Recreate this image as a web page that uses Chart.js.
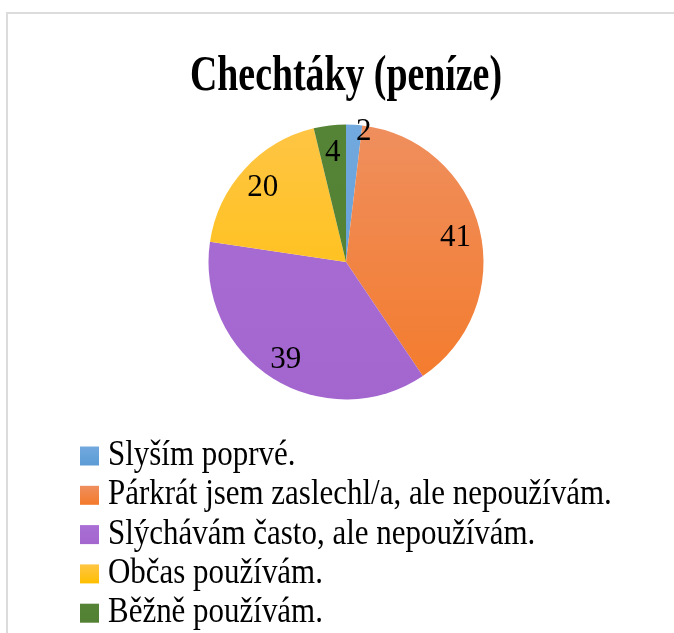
<!DOCTYPE html>
<html><head><meta charset="utf-8">
<script src="https://cdn.jsdelivr.net/npm/chart.js@4"></script>
<style>
html,body{margin:0;padding:0;background:#fff;overflow:hidden;}
#wrap{position:relative;width:674px;height:633px;overflow:hidden;}
#frame{position:absolute;left:6px;top:12px;width:720px;height:700px;border-left:2px solid #dcdcdc;border-top:2px solid #dcdcdc;box-sizing:border-box;}
#c{position:absolute;left:0;top:0;}
</style></head><body>
<div id="wrap"><div id="frame"></div><canvas id="c" width="674" height="633"></canvas></div>
<script>
// ---- data ----
const chartTitle = 'Chechtáky (peníze)';
const categories = [
  'Slyším poprvé.',
  'Párkrát jsem zaslechl/a, ale nepoužívám.',
  'Slýchávám často, ale nepoužívám.',
  'Občas používám.',
  'Běžně používám.'
];
const values = [2, 41, 39, 20, 4];

// ---- styles ----
const topColors    = ['#72a9de', '#ef8f5e', '#a96fd4', '#ffc545', '#558436'];
const bottomColors = ['#5b9bd5', '#f47a2a', '#a366cf', '#ffbf00', '#538134'];
const serif = '"Liberation Serif", "Times New Roman", serif';

function grad(ctx, top, bottom, c1, c2) {
  const g = ctx.createLinearGradient(0, top, 0, bottom);
  g.addColorStop(0, c1); g.addColorStop(1, c2);
  return g;
}
function scaledText(ctx, text, x, y, sx, align) {
  ctx.save();
  ctx.translate(x, y);
  ctx.scale(sx, 1);
  ctx.textAlign = align || 'left';
  ctx.fillText(text, 0, 0);
  ctx.restore();
}

const titlePlugin = {
  id: 'scaledTitle',
  afterDraw(chart, args, o) {
    const ctx = chart.ctx;
    ctx.save();
    ctx.fillStyle = '#000';
    ctx.font = 'bold ' + o.size + 'px ' + serif;
    ctx.textBaseline = 'alphabetic';
    const w = ctx.measureText(o.text).width;
    scaledText(ctx, o.text, o.x, o.y, o.width / w, 'center');
    ctx.restore();
  }
};

const labelPlugin = {
  id: 'sliceLabels',
  afterDatasetsDraw(chart, args, o) {
    const ctx = chart.ctx;
    const meta = chart.getDatasetMeta(0);
    const data = chart.data.datasets[0].data;
    ctx.save();
    ctx.fillStyle = '#000';
    ctx.font = o.size + 'px ' + serif;
    ctx.textBaseline = 'alphabetic';
    meta.data.forEach((arc, i) => {
      const p = arc.getProps(['x', 'y', 'startAngle', 'endAngle', 'outerRadius'], true);
      const mid = (p.startAngle + p.endAngle) / 2;
      const r = p.outerRadius * o.radius;
      const sh = (o.shift && o.shift[i]) || [0, 0];
      const x = p.x + Math.cos(mid) * r + sh[0];
      const y = p.y + Math.sin(mid) * r + sh[1];
      scaledText(ctx, String(data[i]), x, y + o.size * 0.33, o.scaleX, 'center');
    });
    ctx.restore();
  }
};

const legendPlugin = {
  id: 'listLegend',
  afterDraw(chart, args, o) {
    const ctx = chart.ctx;
    ctx.save();
    ctx.font = o.size + 'px ' + serif;
    ctx.textBaseline = 'alphabetic';
    chart.data.labels.forEach((lab, i) => {
      const base = o.top + i * o.step;
      const bt = base - o.box / 2 - o.boxRaise;
      ctx.fillStyle = grad(ctx, bt, bt + o.box, topColors[i], bottomColors[i]);
      ctx.fillRect(o.left, bt, o.box, o.box);
      ctx.fillStyle = '#000';
      scaledText(ctx, lab, o.textX, base, o.scaleX, 'left');
    });
    ctx.restore();
  }
};

new Chart(document.getElementById('c'), {
  type: 'pie',
  data: {
    labels: categories,
    datasets: [{
      data: values,
      backgroundColor: (c) => {
        const a = c.chart.chartArea;
        if (!a) return bottomColors[c.dataIndex];
        return grad(c.chart.ctx, a.top, a.bottom, topColors[c.dataIndex], bottomColors[c.dataIndex]);
      },
      borderWidth: 0,
      hoverOffset: 0
    }]
  },
  options: {
    responsive: false,
    animation: false,
    layout: { padding: { left: 208.5, right: 190.5, top: 124.5, bottom: 233.5 } },
    plugins: {
      legend: { display: false },
      tooltip: { enabled: false },
      title: { display: false },
      scaledTitle: { text: chartTitle, size: 50, x: 346, y: 90, width: 312 },
      sliceLabels: { size: 32, radius: 0.82, scaleX: 0.97, shift: [[11, -20]] },
      listLegend: { size: 36, scaleX: 0.86, left: 80, box: 19, boxRaise: 9, textX: 108, top: 465, step: 39.3 }
    }
  },
  plugins: [titlePlugin, labelPlugin, legendPlugin]
});
</script>
</body></html>
